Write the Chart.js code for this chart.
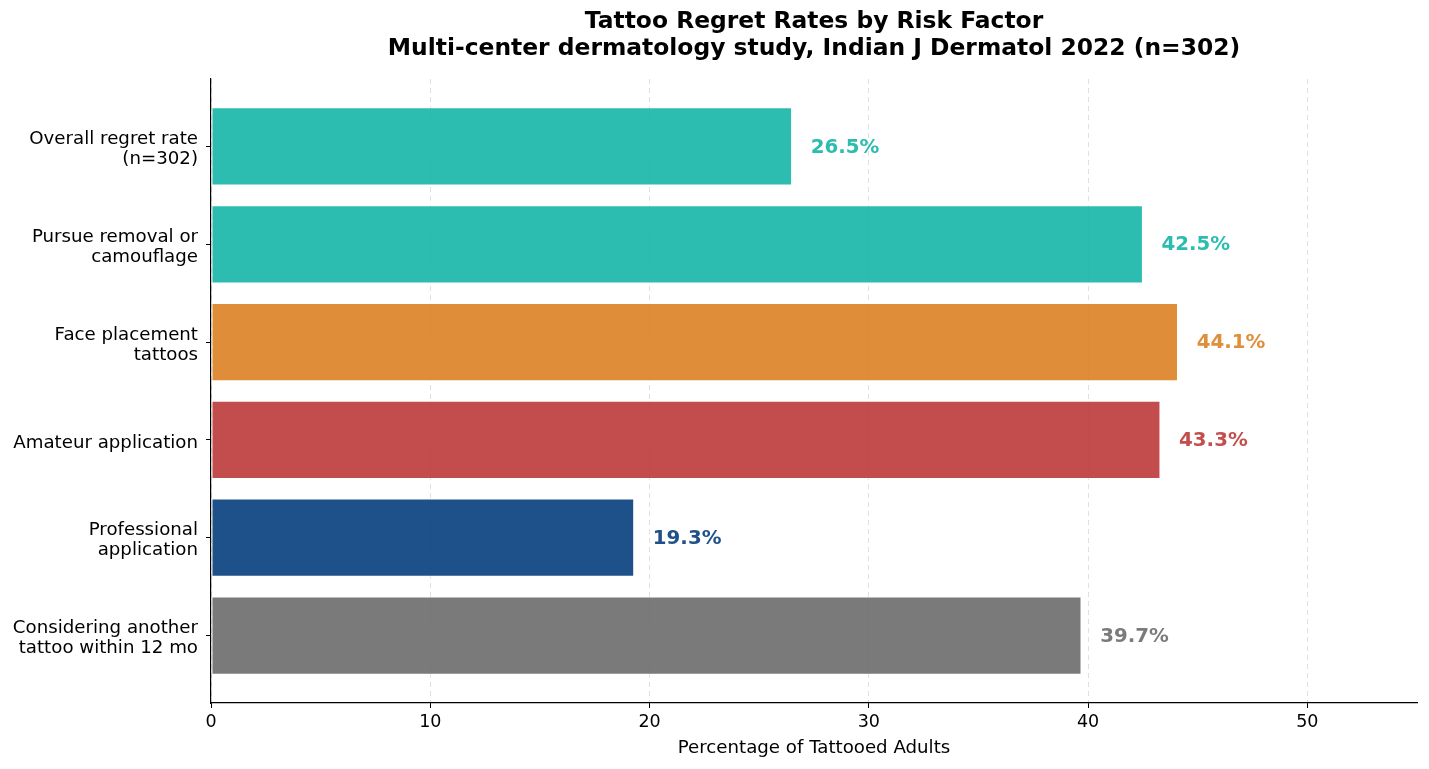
<!DOCTYPE html>
<html>
<head>
<meta charset="utf-8">
<script src="https://cdn.jsdelivr.net/npm/chart.js@4"></script>
<style>
  html, body { margin: 0; padding: 0; background: #fff; }
  #wrap { width: 1429px; height: 769px; }
</style>
</head>
<body>
<div id="wrap"><canvas id="grafRegret"></canvas></div>
<script>
// datos
const categorias = [
    ['Overall regret rate', '(n=302)'],
    ['Pursue removal or', 'camouflage'],
    ['Face placement', 'tattoos'],
    ['Amateur application'],
    ['Professional', 'application'],
    ['Considering another', 'tattoo within 12 mo']
]
const valores = [26.5, 42.5, 44.1, 43.3, 19.3, 39.7]
const colores = ['#2cbcb0', '#2cbcb0', '#e08e3a', '#c44d4d', '#1f5089', '#7b7b7b']
const ticksX = [0, 10, 20, 30, 40, 50]
const titulo = ['Tattoo Regret Rates by Risk Factor', 'Multi-center dermatology study, Indian J Dermatol 2022 (n=302)']
const tituloEjeX = 'Percentage of Tattooed Adults'

const fuente = "'DejaVu Sans', sans-serif"

function conAlfa(hex, a) {
    let r = parseInt(hex.slice(1, 3), 16)
    let g = parseInt(hex.slice(3, 5), 16)
    let b = parseInt(hex.slice(5, 7), 16)
    // color base tal que con alfa sobre blanco dé el hex observado
    r = Math.round((r - 255 * (1 - a)) / a)
    g = Math.round((g - 255 * (1 - a)) / a)
    b = Math.round((b - 255 * (1 - a)) / a)
    return `rgba(${r},${g},${b},${a})`
}

const pluginTitulo = {
    id: 'tituloCentrado',
    afterDraw(chart) {
        const ctx = chart.ctx
        const area = chart.chartArea
        const cx = (area.left + area.right) / 2
        ctx.save()
        ctx.fillStyle = '#000'
        ctx.font = `bold 23.4px ${fuente}`
        ctx.textAlign = 'center'
        ctx.textBaseline = 'middle'
        ctx.fillText(titulo[0], cx, 22)
        ctx.fillText(titulo[1], cx, 49)
        ctx.restore()
    }
}

const pluginEtiquetas = {
    id: 'etiquetasValor',
    afterDatasetsDraw(chart) {
        const ctx = chart.ctx
        const sx = chart.scales.x
        const sy = chart.scales.y
        ctx.save()
        ctx.font = `bold 19.8px ${fuente}`
        ctx.textAlign = 'left'
        ctx.textBaseline = 'middle'
        valores.forEach((v, i) => {
            ctx.fillStyle = colores[i]
            ctx.fillText(v.toFixed(1) + '%', sx.getPixelForValue(v + 0.85), sy.getPixelForValue(i) + 1)
        })
        ctx.restore()
    }
}

let grafRegret = new Chart(document.getElementById('grafRegret'), {
    type: 'bar',
    data: {
        datasets: [{
            data: valores.map((v, i) => ({ x: v, y: i })),
            backgroundColor: colores.map(c => conAlfa(c, 0.9)),
            borderColor: 'rgba(255,255,255,0.7)',
            borderWidth: 1,
            borderSkipped: false,
            barPercentage: 0.8,
            categoryPercentage: 1.0,
        }]
    },
    options: {
        indexAxis: 'y',
        responsive: true,
        maintainAspectRatio: false,
        animation: false,
        layout: { padding: { top: 79, right: 12, left: 0, bottom: 0 } },
        plugins: {
            legend: { display: false },
            tooltip: { enabled: false },
        },
        scales: {
            x: {
                type: 'linear',
                min: 0,
                max: 55,
                afterFit: (s) => { s.height = 66 },
                afterBuildTicks: (s) => { s.ticks = ticksX.map(v => ({ value: v })) },
                ticks: {
                    color: '#000',
                    font: { family: fuente, size: 17.5 },
                    padding: 4,
                },
                grid: {
                    color: 'rgba(0,0,0,0.12)',
                    lineWidth: 1,
                    tickColor: '#000',
                    tickLength: 5,
                    drawOnChartArea: true,
                },
                border: { display: true, color: '#000', width: 1.2, dash: [5, 4] },
                title: {
                    display: true,
                    text: tituloEjeX,
                    color: '#000',
                    font: { family: fuente, size: 18.2 },
                    padding: { top: 4, bottom: 10 },
                },
            },
            y: {
                type: 'linear',
                reverse: true,
                offset: false,
                min: -0.69,
                max: 5.69,
                afterFit: (s) => { s.width = 211 },
                afterBuildTicks: (s) => { s.ticks = categorias.map((c, i) => ({ value: i })) },
                ticks: {
                    color: '#000',
                    font: { family: fuente, size: 18.2, lineHeight: '20px' },
                    padding: 8,
                    labelOffset: 3,
                    callback: (v) => categorias[v],
                },
                grid: {
                    offset: false,
                    drawOnChartArea: false,
                    color: 'rgba(0,0,0,0)',
                    tickColor: '#000',
                    tickLength: 5,
                },
                border: { display: true, color: '#000', width: 1.2 },
            }
        }
    },
    plugins: [pluginTitulo, pluginEtiquetas]
})
</script>
</body>
</html>
